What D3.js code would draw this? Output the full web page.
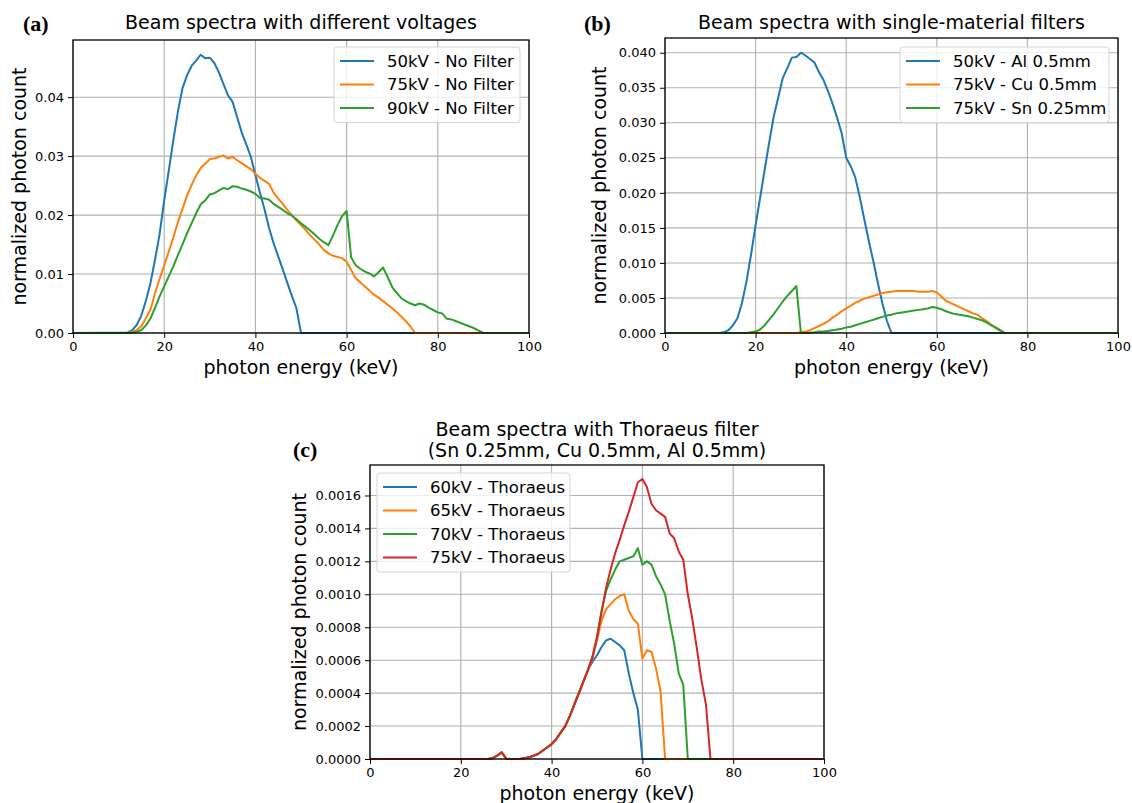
<!DOCTYPE html>
<html lang="en">
<head>
<meta charset="UTF-8">
<title>Beam spectra</title>
<script src="https://d3js.org/d3.v7.min.js"></script>
<style>
  body { margin: 0; background: #fff; }
  svg text { font-family: "DejaVu Sans", sans-serif; fill: #000; }
  .grid line { stroke: #b0b0b0; stroke-width: 1.1px; }
  .series { fill: none; stroke-width: 2px; stroke-linejoin: round; }
  .tag { font-family: "Liberation Serif", "DejaVu Serif", serif !important; font-weight: bold; font-size: 22px; }
</style>
</head>
<body>
<svg id="chart" width="1132" height="803"></svg>
<script>
// ---- data (normalized photon count per 1 keV bin, starting at the given keV) ----
const xTicks = [0, 20, 40, 60, 80, 100];

// (a) different voltages, no filter
const a50 = { start: 12, vals: [0.0001, 0.0005, 0.0014, 0.003, 0.0055, 0.0085, 0.0125, 0.0168, 0.0225, 0.0275, 0.0327, 0.0375, 0.0415, 0.0437, 0.0453, 0.0462, 0.0472, 0.0466, 0.0467, 0.0458, 0.0442, 0.0422, 0.0403, 0.0392, 0.0366, 0.034, 0.032, 0.0299, 0.0268, 0.0238, 0.021, 0.0178, 0.0152, 0.013, 0.0108, 0.0085, 0.0063, 0.0042, 0] };
const a75 = { start: 12, vals: [0, 0.0002, 0.0005, 0.0012, 0.0025, 0.004, 0.0068, 0.0092, 0.0115, 0.0138, 0.0162, 0.0188, 0.021, 0.0233, 0.0251, 0.0267, 0.028, 0.0287, 0.0295, 0.0296, 0.0299, 0.0301, 0.0296, 0.0299, 0.0293, 0.0288, 0.0283, 0.0278, 0.027, 0.0263, 0.0258, 0.0253, 0.0238, 0.0228, 0.0219, 0.0209, 0.02, 0.0191, 0.0183, 0.0175, 0.0166, 0.0158, 0.015, 0.0141, 0.0135, 0.0131, 0.0129, 0.0127, 0.0121, 0.0107, 0.0093, 0.0086, 0.0079, 0.0072, 0.0065, 0.006, 0.0054, 0.0048, 0.0042, 0.0035, 0.0028, 0.002, 0.0011, 0] };
const a90 = { start: 13, vals: [0, 0.0002, 0.0005, 0.0013, 0.0025, 0.0043, 0.0062, 0.0079, 0.0096, 0.0113, 0.0132, 0.015, 0.0169, 0.0186, 0.0203, 0.0218, 0.0225, 0.0235, 0.0237, 0.0242, 0.0246, 0.0244, 0.0249, 0.0248, 0.0245, 0.0243, 0.024, 0.0236, 0.0229, 0.0228, 0.0226, 0.0219, 0.0214, 0.0209, 0.0203, 0.0199, 0.0193, 0.0186, 0.018, 0.0174, 0.0167, 0.016, 0.0154, 0.0149, 0.0165, 0.0183, 0.0198, 0.0207, 0.0128, 0.0115, 0.0109, 0.0104, 0.0101, 0.0096, 0.0103, 0.0111, 0.0095, 0.0078, 0.0068, 0.0059, 0.0054, 0.005, 0.0047, 0.005, 0.0048, 0.0043, 0.0039, 0.0035, 0.0033, 0.0024, 0.0023, 0.002, 0.0017, 0.0014, 0.0011, 0.0008, 0.0004, 0] };

// (b) single-material filters
const bAl = { start: 12, vals: [0, 0.0001, 0.0004, 0.0011, 0.0021, 0.0043, 0.0074, 0.0112, 0.0154, 0.0193, 0.0233, 0.0272, 0.0309, 0.0336, 0.0364, 0.0378, 0.0393, 0.0394, 0.04, 0.0396, 0.0391, 0.0386, 0.0372, 0.0361, 0.0345, 0.0327, 0.0307, 0.0285, 0.025, 0.0238, 0.0222, 0.0194, 0.0162, 0.0131, 0.0102, 0.0071, 0.0042, 0.0017, 0] };
const bCu = { start: 29, vals: [0, 0.0001, 0.0002, 0.0004, 0.0007, 0.001, 0.0013, 0.0017, 0.0022, 0.0026, 0.0031, 0.0035, 0.0039, 0.0043, 0.0046, 0.0049, 0.0051, 0.0053, 0.0055, 0.0057, 0.0058, 0.0059, 0.006, 0.006, 0.006, 0.006, 0.006, 0.0059, 0.0059, 0.0059, 0.006, 0.0058, 0.0052, 0.0046, 0.0043, 0.004, 0.0037, 0.0034, 0.0031, 0.0028, 0.0026, 0.0021, 0.0017, 0.0012, 0.0007, 0.0003, 0] };
const bSn = { start: 18, vals: [0, 0.0001, 0.0002, 0.0005, 0.0011, 0.0019, 0.0027, 0.0036, 0.0045, 0.0053, 0.006, 0.0067, 0, 0, 0.00005, 0.0001, 0.0002, 0.0002, 0.0003, 0.0004, 0.0005, 0.0006, 0.0008, 0.0009, 0.0011, 0.0013, 0.0015, 0.0017, 0.0019, 0.0021, 0.0023, 0.0025, 0.0026, 0.0028, 0.0029, 0.003, 0.0031, 0.0032, 0.0033, 0.0034, 0.0035, 0.0037, 0.0036, 0.0034, 0.0031, 0.0029, 0.0027, 0.0026, 0.0025, 0.0024, 0.0022, 0.002, 0.0018, 0.0015, 0.0011, 0.0008, 0.0004, 0] };

// (c) Thoraeus filter
const c60 = { start: 26, vals: [0, 0.000005, 0.00002, 0.00004, 0.000002, 0, 0, 0, 0.000005, 0.00001, 0.00002, 0.00003, 0.00005, 0.00007, 0.00009, 0.00012, 0.00016, 0.0002, 0.00026, 0.00033, 0.0004, 0.00047, 0.00054, 0.00059, 0.00063, 0.00068, 0.00072, 0.00073, 0.00071, 0.00069, 0.00066, 0.00052, 0.0004, 0.0003, 0] };
const c65 = { start: 26, vals: [0, 0.000005, 0.00002, 0.00004, 0.000002, 0, 0, 0, 0.000005, 0.00001, 0.00002, 0.00003, 0.00005, 0.00007, 0.00009, 0.00012, 0.00016, 0.0002, 0.00026, 0.00033, 0.0004, 0.00047, 0.00054, 0.00061, 0.00072, 0.00084, 0.00091, 0.00094, 0.00097, 0.00099, 0.001, 0.0009, 0.00085, 0.00082, 0.00061, 0.00066, 0.00065, 0.00055, 0.00041, 0] };
const c70 = { start: 26, vals: [0, 0.000005, 0.00002, 0.00004, 0.000002, 0, 0, 0, 0.000005, 0.00001, 0.00002, 0.00003, 0.00005, 0.00007, 0.00009, 0.00012, 0.00016, 0.0002, 0.00026, 0.00033, 0.0004, 0.00047, 0.00054, 0.00062, 0.00074, 0.0009, 0.00102, 0.00109, 0.00115, 0.0012, 0.00121, 0.00122, 0.00123, 0.00128, 0.00118, 0.0012, 0.00118, 0.00111, 0.00106, 0.001, 0.00084, 0.0007, 0.00052, 0.00045, 0] };
const c75 = { start: 26, vals: [0, 0.000005, 0.00002, 0.00004, 0.000002, 0, 0, 0, 0.000005, 0.00001, 0.00002, 0.00003, 0.00005, 0.00007, 0.00009, 0.00012, 0.00016, 0.0002, 0.00026, 0.00033, 0.0004, 0.00047, 0.00054, 0.00062, 0.00074, 0.00089, 0.00104, 0.00115, 0.00125, 0.00133, 0.00142, 0.0015, 0.00159, 0.00168, 0.0017, 0.00165, 0.00155, 0.00151, 0.00149, 0.00147, 0.00137, 0.00134, 0.00126, 0.00121, 0.001, 0.00085, 0.00067, 0.00048, 0.00033, 0] };

const namesA = ["50kV - No Filter", "75kV - No Filter", "90kV - No Filter"];
const namesB = ["50kV - Al 0.5mm", "75kV - Cu 0.5mm", "75kV - Sn 0.25mm"];
const namesC = ["60kV - Thoraeus", "65kV - Thoraeus", "70kV - Thoraeus", "75kV - Thoraeus"];
const yTicksA = [0, 0.01, 0.02, 0.03, 0.04];
const yTicksB = [0, 0.005, 0.01, 0.015, 0.02, 0.025, 0.03, 0.035, 0.04];
const yTicksC = [0, 0.0002, 0.0004, 0.0006, 0.0008, 0.001, 0.0012, 0.0014, 0.0016];

const colors = ["#1f77b4", "#ff7f0e", "#2ca02c", "#d62728"];

// ---- drawing ----
const svg = d3.select("#chart");

// series runs flat at zero across the whole 0-100 keV axis
function toPoints(s) {
  const pts = [[0, 0]];
  s.vals.forEach((v, i) => pts.push([s.start + i, v]));
  pts.push([100, 0]);
  return pts;
}

function panel(cfg) {
  const x = d3.scaleLinear().domain([0, 100]).range([cfg.left, cfg.right]);
  const y = d3.scaleLinear().domain([0, cfg.yMax]).range([cfg.bottom, cfg.top]);
  const g = svg.append("g");

  // grid
  g.append("g").attr("class", "grid")
    .selectAll("line").data(xTicks).join("line")
    .attr("x1", d => x(d)).attr("x2", d => x(d))
    .attr("y1", cfg.top).attr("y2", cfg.bottom);
  g.append("g").attr("class", "grid")
    .selectAll("line").data(cfg.yTicks).join("line")
    .attr("x1", cfg.left).attr("x2", cfg.right)
    .attr("y1", d => y(d)).attr("y2", d => y(d));

  // lines
  const line = d3.line().x(d => x(d[0])).y(d => y(d[1]));
  g.selectAll("path.series").data(cfg.series).join("path")
    .attr("class", "series")
    .attr("stroke", (d, i) => colors[i])
    .attr("d", d => line(toPoints(d)));

  // axes
  const xAxis = g.append("g").attr("transform", `translate(0,${cfg.bottom})`)
    .call(d3.axisBottom(x).tickValues(xTicks).tickSize(5).tickPadding(4).tickFormat(d3.format("d")));
  const yAxis = g.append("g").attr("transform", `translate(${cfg.left},0)`)
    .call(d3.axisLeft(y).tickValues(cfg.yTicks).tickSize(5).tickPadding(4).tickFormat(d3.format(cfg.fmt)));
  [xAxis, yAxis].forEach(a => {
    a.select(".domain").remove();
    a.selectAll(".tick line").attr("stroke", "#000").attr("stroke-width", 1);
    a.selectAll("text").style("font-size", "13px").attr("font-family", "DejaVu Sans");
  });

  // frame
  g.append("rect").attr("x", cfg.left).attr("y", cfg.top)
    .attr("width", cfg.right - cfg.left).attr("height", cfg.bottom - cfg.top)
    .attr("fill", "none").attr("stroke", "#000").attr("stroke-width", 1.3);

  // labels
  g.append("text").attr("x", (cfg.left + cfg.right) / 2).attr("y", cfg.bottom + 41)
    .attr("text-anchor", "middle").style("font-size", "19px").text("photon energy (keV)");
  g.append("text")
    .attr("transform", `translate(${cfg.yLabelX},${(cfg.top + cfg.bottom) / 2}) rotate(-90)`)
    .attr("text-anchor", "middle").style("font-size", "19px").text("normalized photon count");
  cfg.title.forEach((t, i) => {
    g.append("text").attr("x", (cfg.left + cfg.right) / 2)
      .attr("y", cfg.titleY + i * 21).attr("text-anchor", "middle")
      .style("font-size", "19px").text(t);
  });
  g.append("text").attr("class", "tag").attr("x", cfg.tagX).attr("y", cfg.tagY).text(cfg.tag);

  // legend
  const lg = cfg.legend;
  const rowH = 23.5;
  g.append("rect").attr("x", lg.x).attr("y", lg.y)
    .attr("width", lg.w).attr("height", cfg.names.length * rowH + 5)
    .attr("rx", 3).attr("fill", "#fff").attr("fill-opacity", 0.8)
    .attr("stroke", "#d6d6d6").attr("stroke-width", 1);
  cfg.names.forEach((n, i) => {
    const yy = lg.y + 14 + i * rowH;
    g.append("line").attr("x1", lg.x + 6).attr("x2", lg.x + 40)
      .attr("y1", yy).attr("y2", yy).attr("stroke", colors[i]).attr("stroke-width", 2);
    g.append("text").attr("x", lg.x + 53).attr("y", yy).attr("dy", "0.35em")
      .style("font-size", "16.5px").text(n);
  });
}

panel({
  left: 73, right: 529, top: 40, bottom: 333, yMax: 0.0497,
  yTicks: yTicksA, fmt: ".2f", series: [a50, a75, a90], names: namesA,
  title: ["Beam spectra with different voltages"], titleY: 29,
  tag: "(a)", tagX: 23, tagY: 31, yLabelX: 26,
  legend: { x: 334, y: 47, w: 186 }
});
panel({
  left: 665, right: 1118, top: 38, bottom: 333, yMax: 0.0421,
  yTicks: yTicksB, fmt: ".3f", series: [bAl, bCu, bSn], names: namesB,
  title: ["Beam spectra with single-material filters"], titleY: 29,
  tag: "(b)", tagX: 584, tagY: 31, yLabelX: 606,
  legend: { x: 900, y: 47, w: 209 }
});
panel({
  left: 370, right: 824, top: 465, bottom: 759, yMax: 0.001785,
  yTicks: yTicksC, fmt: ".4f", series: [c60, c65, c70, c75], names: namesC,
  title: ["Beam spectra with Thoraeus filter", "(Sn 0.25mm, Cu 0.5mm, Al 0.5mm)"], titleY: 436,
  tag: "(c)", tagX: 293, tagY: 457, yLabelX: 306,
  legend: { x: 377, y: 473, w: 193 }
});
</script>
</body>
</html>
